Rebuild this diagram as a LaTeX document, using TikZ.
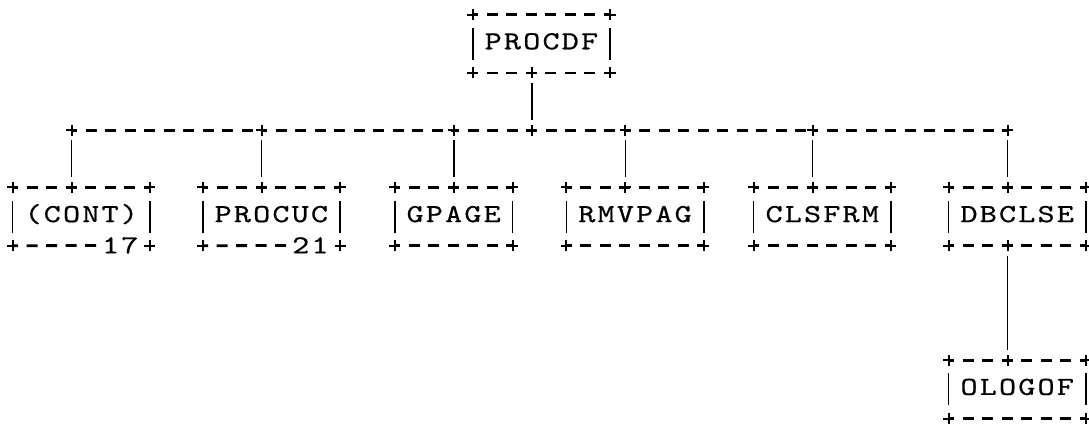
\documentclass[tikz,border=0pt]{standalone}
\usepackage{fontspec}
\usepackage{tikz}

\newfontfamily\asciittf[FakeStretch=1.25, LetterSpace=8.5, FakeBold=0.6]{lmmono10-regular.otf}

\begin{document}
\begin{tikzpicture}[
    x=9.75pt, y=-14.4pt,
    prog/.style={rectangle, minimum width=68.25pt, minimum height=28.8pt, inner sep=0pt, text height=8pt, text depth=2.5pt, font=\asciittf\fontsize{13}{16}\selectfont},
    prognarrow/.style={prog, minimum width=58.5pt},
    pgnum/.style={inner sep=0pt, text height=8pt, text depth=0pt, font=\asciittf\fontsize{13}{16}\selectfont},
    dashrow/.style={line width=1.4pt, dash pattern=on 5.5pt off 4.25pt, dash phase=2.75pt},
    vbar/.style={line width=0.8pt, shorten <=5pt, shorten >=5pt},
    sidebar/.style={line width=0.8pt},
    asciiplus/.pic={\draw[line width=1pt] (-2.75pt,0pt) -- (2.75pt,0pt) (0pt,-2.75pt) -- (0pt,2.75pt);}
]
    \useasboundingbox (-0.6667,-0.5208) rectangle (55.1795,14.3403);

    \node[prog] (procdf) at (27.1,1) {PROCDF};
    \node[prog] (cont) at (3.5,7) {(CONT)};
    \node[prog] (procuc) at (13.25,7) {PROCUC};
    \node[prognarrow] (gpage) at (22.6,7) {GPAGE};
    \node[prog] (rmvpag) at (31.9,7) {RMVPAG};
    \node[prog] (clsfrm) at (41.5,7) {CLSFRM};
    \node[prog] (dbclse) at (51.5,7) {DBCLSE};
    \node[prog] (ologof) at (51.5,13) {OLOGOF};

    \node[pgnum] (cont-pg) at (5.5,8) {17};
    \node[pgnum] (procuc-pg) at (15.25,8) {21};

    % call bus
    \coordinate (bus-top) at (26.6,4);
    \coordinate (bus-cont) at (3,4);
    \coordinate (bus-procuc) at (12.75,4);
    \coordinate (bus-gpage) at (22.6,4);
    \coordinate (bus-rmvpag) at (31.4,4);
    \coordinate (bus-clsfrm) at (41,4);
    \coordinate (bus-dbclse) at (51,4);

    % box borders
    \foreach \b in {procdf,cont,procuc,gpage,rmvpag,clsfrm,dbclse,ologof} {
        \draw[dashrow] (\b.north west) -- (\b.north east);
        \draw[sidebar] ([yshift=8pt]\b.west) -- ([yshift=-8pt]\b.west)
                       ([yshift=8pt]\b.east) -- ([yshift=-8pt]\b.east);
        \path (\b.north west) pic {asciiplus} (\b.north east) pic {asciiplus}
              (\b.south west) pic {asciiplus} (\b.south east) pic {asciiplus};
    }
    \foreach \b in {procdf,gpage,rmvpag,clsfrm,dbclse,ologof}
        \draw[dashrow] (\b.south west) -- (\b.south east);
    \draw[dashrow] (cont.south west) -- (cont-pg.west);
    \draw[dashrow] (procuc.south west) -- (procuc-pg.west);

    % connectors
    \foreach \a/\c in {cont/procuc, procuc/gpage, gpage/top, top/rmvpag, rmvpag/clsfrm, clsfrm/dbclse}
        \draw[dashrow] (bus-\a) -- (bus-\c);
    \draw[vbar] (bus-top |- procdf.south) -- (bus-top);
    \path (bus-top |- procdf.south) pic {asciiplus} (bus-top) pic {asciiplus};
    \foreach \b in {cont,procuc,gpage,rmvpag,clsfrm,dbclse} {
        \draw[vbar] (bus-\b) -- (bus-\b |- \b.north);
        \path (bus-\b) pic {asciiplus} (bus-\b |- \b.north) pic {asciiplus};
    }
    \draw[vbar] (bus-dbclse |- dbclse.south) -- (bus-dbclse |- ologof.north);
    \path (bus-dbclse |- dbclse.south) pic {asciiplus} (bus-dbclse |- ologof.north) pic {asciiplus};
\end{tikzpicture}
\end{document}
